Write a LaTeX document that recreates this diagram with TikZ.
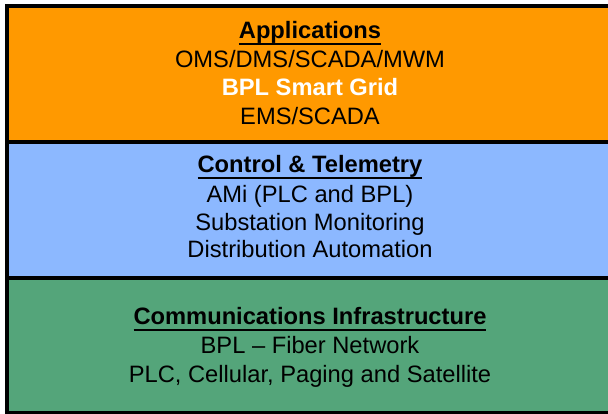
\documentclass[tikz,border=0pt]{standalone}
\usepackage{fontspec}
\setmainfont{Liberation Sans}
\usepackage{tikz}
\definecolor{appsorange}{RGB}{255,153,0}
\definecolor{ctrlblue}{RGB}{140,184,255}
\definecolor{commsgreen}{RGB}{84,165,122}
\newcommand{\undertext}[1]{{\setbox0\hbox{#1}\rlap{\rule[-6pt]{\wd0}{2pt}}\box0}}

\begin{document}
\begin{tikzpicture}[x=1pt,y=1pt,
  band/.style={draw=black, line width=4pt, rectangle, inner sep=0pt, outer sep=0pt,
    minimum width=633pt},
  txt/.style={anchor=base, inner sep=0pt, font=\fontsize{23.7}{28}\selectfont}]
\clip (0,0) rectangle (608,414);
% the three layers
\node[band, fill=appsorange, minimum height=136pt] (apps) at (323.5,340){};
\node[band, fill=ctrlblue, minimum height=136pt] (ctrl) at (323.5,204){};
\node[band, fill=commsgreen, minimum height=135pt] (comms) at (323.5,68.5){};
% applications
\node[txt] (appstitle) at (310,375){\bfseries\undertext{Applications}};
\node[txt] (oms) at (310,346){OMS/DMS/SCADA/MWM};
\node[txt, text=white] (bpl) at (310,318){\bfseries BPL Smart Grid};
\node[txt] (ems) at (310,289){EMS/SCADA};
% control and telemetry
\node[txt] (ctrltitle) at (310,241){\bfseries\undertext{Control \& Telemetry}};
\node[txt] (ami) at (310,211){AMi (PLC and BPL)};
\node[txt] (substation) at (310,183){Substation Monitoring};
\node[txt] (distribution) at (310,156){Distribution Automation};
% communications
\node[txt] (commstitle) at (310,89){\bfseries\undertext{Communications Infrastructure}};
\node[txt] (fiber) at (310,60){BPL -- Fiber Network};
\node[txt] (plc) at (310,31){PLC, Cellular, Paging and Satellite};
\end{tikzpicture}
\end{document}
